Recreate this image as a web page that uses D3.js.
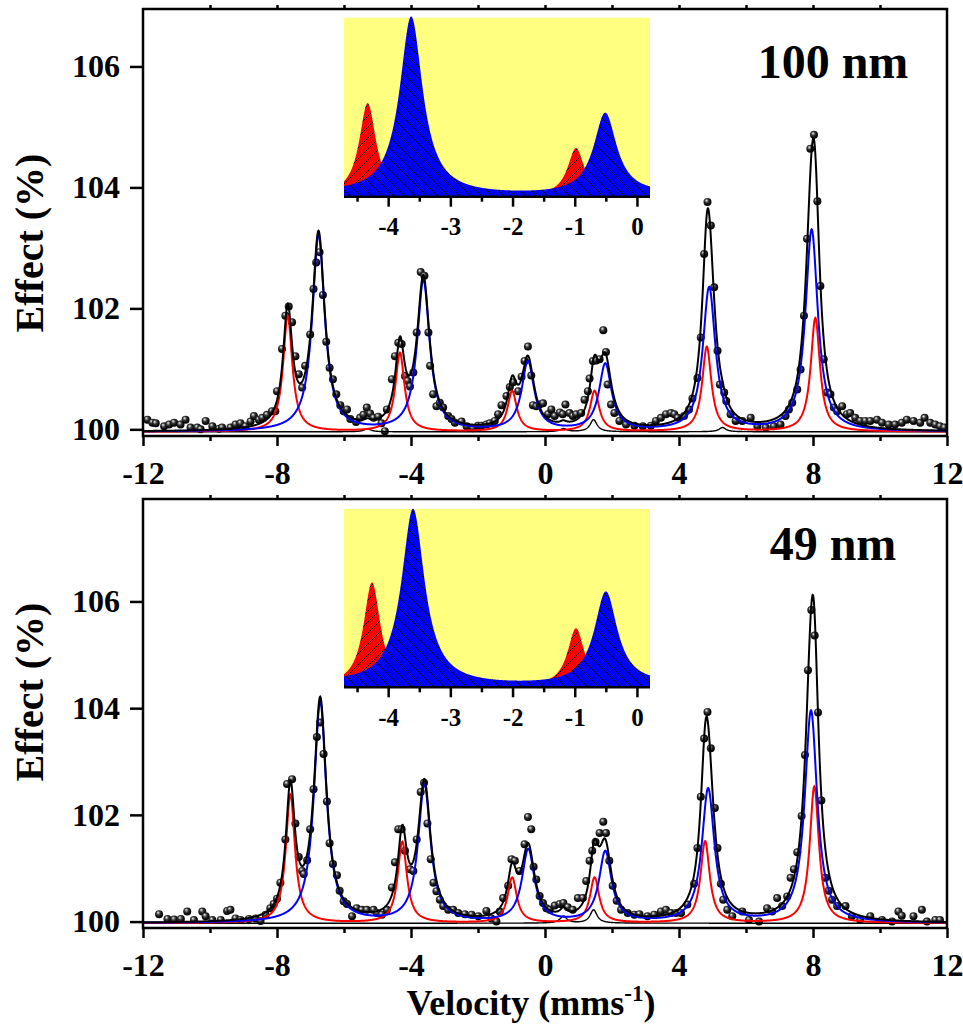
<!DOCTYPE html>
<html>
<head>
<meta charset="utf-8">
<script src="https://cdn.jsdelivr.net/npm/d3@7"></script>
<style>
  body { margin: 0; background: #fff; }
  text { font-family: "Liberation Serif", "Times New Roman", serif; font-weight: bold; fill: #000; }
</style>
</head>
<body>
<svg id="fig" width="963" height="1024"></svg>
<script>
// ---- axis ticks ----
const velocityTicks = [-12, -8, -4, 0, 4, 8, 12];
const velocityMinor = [-10, -6, -2, 2, 6, 10];
const velocityTop = [-10, -8, -6, -4, -2, 0, 2, 4, 6, 8, 10];
const effectTicks = [100, 102, 104, 106];
const insetTicks = [-4, -3, -2, -1, 0];
const insetMinor = [-4.5, -3.5, -2.5, -1.5, -0.5];

// ---- 100 nm film: measured spectrum [velocity mm/s, effect %] ----
const data100 = [
  [-11.87,100.16],[-11.72,100.11],[-11.62,100.10],[-11.37,100.05],[-11.22,100.08],[-11.07,100.11],
  [-10.88,100.08],[-10.73,100.16],[-10.58,100.03],[-10.38,100.03],[-10.28,100.00],[-10.13,100.14],
  [-9.93,100.05],[-9.73,100.01],[-9.64,100.03],[-9.39,100.03],[-9.24,100.08],[-9.09,100.10],
  [-8.94,100.05],[-8.79,100.13],[-8.69,100.22],[-8.54,100.16],[-8.44,100.19],[-8.30,100.24],
  [-8.15,100.30],[-8.05,100.30],[-8.00,100.63],[-7.85,101.33],[-7.75,101.88],[-7.65,102.03],
  [-7.55,101.77],[-7.45,101.21],[-7.35,100.91],[-7.25,100.69],[-7.16,101.05],[-7.01,101.57],
  [-6.91,102.32],[-6.83,102.76],[-6.73,102.93],[-6.63,102.22],[-6.53,101.45],[-6.43,101.02],
  [-6.33,100.83],[-6.23,100.58],[-6.11,100.40],[-6.01,100.30],[-5.91,100.33],[-5.81,100.17],
  [-5.64,100.12],[-5.52,100.19],[-5.42,100.24],[-5.32,100.36],[-5.22,100.26],[-5.12,100.19],
  [-4.98,100.21],[-4.88,100.10],[-4.78,99.97],[-4.72,100.33],[-4.57,100.83],[-4.48,101.21],
  [-4.38,101.43],[-4.28,101.41],[-4.18,100.88],[-4.10,100.80],[-4.03,100.71],[-3.93,100.94],
  [-3.83,101.60],[-3.71,102.60],[-3.60,102.54],[-3.48,101.60],[-3.43,101.05],[-3.34,100.58],
  [-3.24,100.38],[-3.14,100.44],[-3.04,100.36],[-2.89,100.22],[-2.79,100.17],[-2.69,100.11],
  [-2.49,100.13],[-2.34,100.05],[-2.15,100.02],[-2.00,100.06],[-1.90,100.06],[-1.75,100.08],
  [-1.65,100.10],[-1.50,100.14],[-1.40,100.25],[-1.30,100.40],[-1.15,100.55],[-1.05,100.70],
  [-0.95,100.78],[-0.80,100.63],[-0.70,100.87],[-0.61,101.13],[-0.51,101.37],[-0.41,100.89],
  [-0.36,100.40],[-0.26,100.38],[-0.16,100.41],[-0.06,100.43],[0.09,100.25],[0.19,100.33],
  [0.29,100.22],[0.44,100.28],[0.53,100.25],[0.61,100.41],[0.73,100.27],[0.83,100.22],
  [0.93,100.25],[1.08,100.27],[1.18,100.49],[1.28,100.63],[1.33,100.84],[1.43,101.13],
  [1.53,101.14],[1.63,101.16],[1.74,101.64],[1.82,101.28],[1.87,100.74],[1.97,100.41],
  [2.07,100.27],[2.22,100.14],[2.42,100.08],[2.67,100.06],[2.92,100.05],[3.16,100.06],
  [3.31,100.14],[3.46,100.19],[3.61,100.25],[3.76,100.27],[3.86,100.25],[3.96,100.19],
  [4.15,100.22],[4.30,100.33],[4.40,100.51],[4.55,100.85],[4.65,101.52],[4.75,102.90],
  [4.85,103.76],[4.95,103.37],[5.05,102.35],[5.15,101.30],[5.22,100.74],[5.35,100.61],
  [5.41,100.47],[5.54,100.25],[5.69,100.14],[5.89,100.14],[6.14,100.19],[6.34,100.05],
  [6.59,100.03],[6.83,100.05],[7.03,100.08],[7.18,100.22],[7.28,100.33],[7.38,100.44],
  [7.53,100.66],[7.63,100.99],[7.73,101.88],[7.82,103.15],[7.92,104.64],[8.03,104.87],
  [8.13,103.77],[8.22,102.37],[8.32,101.16],[8.42,100.61],[8.52,100.58],[8.62,100.36],
  [8.72,100.30],[8.87,100.38],[9.01,100.25],[9.11,100.27],[9.26,100.19],[9.41,100.14],
  [9.56,100.14],[9.71,100.14],[9.91,100.16],[10.06,100.11],[10.26,100.08],[10.45,100.08],
  [10.65,100.11],[10.80,100.16],[11.00,100.14],[11.20,100.11],[11.33,100.19],[11.50,100.11],
  [11.65,100.08],[11.79,100.05],[11.92,100.03]
];

// ---- 49 nm film: measured spectrum ----
const data49 = [
  [-11.52,100.14],[-11.27,100.05],[-11.07,100.04],[-10.87,100.05],[-10.68,100.19],[-10.48,100.03],
  [-10.23,100.19],[-10.13,100.10],[-9.93,100.03],[-9.68,100.03],[-9.49,100.20],[-9.39,100.22],
  [-9.24,100.06],[-9.09,100.03],[-8.84,100.05],[-8.64,100.06],[-8.49,100.01],[-8.34,100.13],
  [-8.20,100.25],[-8.10,100.33],[-8.00,100.43],[-7.90,100.73],[-7.75,101.54],[-7.70,102.58],
  [-7.55,102.67],[-7.45,101.84],[-7.35,101.21],[-7.25,100.95],[-7.20,100.89],[-7.10,101.15],
  [-7.01,101.73],[-6.91,102.48],[-6.81,103.46],[-6.71,103.73],[-6.61,103.14],[-6.51,102.25],
  [-6.43,101.47],[-6.33,101.08],[-6.21,100.87],[-6.13,100.58],[-6.01,100.38],[-5.91,100.33],
  [-5.76,100.10],[-5.62,100.25],[-5.47,100.22],[-5.32,100.22],[-5.12,100.22],[-5.02,100.16],
  [-4.87,100.13],[-4.72,100.22],[-4.57,100.64],[-4.48,101.11],[-4.38,101.73],[-4.28,101.73],
  [-4.18,101.33],[-4.03,100.98],[-3.93,100.95],[-3.83,101.54],[-3.71,102.43],[-3.61,102.60],
  [-3.51,101.84],[-3.41,101.17],[-3.33,100.73],[-3.24,100.57],[-3.14,100.41],[-3.04,100.29],
  [-2.89,100.22],[-2.74,100.22],[-2.59,100.16],[-2.39,100.14],[-2.19,100.13],[-1.99,100.10],
  [-1.75,100.20],[-1.60,100.06],[-1.45,100.00],[-1.35,100.19],[-1.25,100.44],[-1.10,100.67],
  [-1.00,101.17],[-0.90,101.14],[-0.76,100.95],[-0.61,101.45],[-0.51,101.96],[-0.41,101.73],
  [-0.34,101.03],[-0.26,100.79],[-0.16,100.48],[-0.06,100.35],[0.04,100.25],[0.14,100.22],
  [0.29,100.30],[0.44,100.33],[0.55,100.35],[0.68,100.27],[0.83,100.22],[0.98,100.44],
  [1.13,100.44],[1.23,100.76],[1.33,101.14],[1.41,101.33],[1.51,101.49],[1.63,101.66],
  [1.74,101.87],[1.82,101.66],[1.92,101.14],[2.02,100.67],[2.14,100.39],[2.27,100.22],
  [2.47,100.16],[2.67,100.13],[2.82,100.14],[3.06,100.10],[3.26,100.13],[3.46,100.19],
  [3.61,100.22],[3.76,100.16],[3.91,100.16],[4.06,100.16],[4.25,100.32],[4.45,100.71],
  [4.55,101.38],[4.65,102.34],[4.75,103.43],[4.85,103.93],[4.95,103.25],[5.07,102.13],
  [5.15,101.38],[5.25,100.71],[5.32,100.41],[5.44,100.22],[5.59,100.10],[5.89,100.19],
  [6.09,100.03],[6.39,100.00],[6.63,100.25],[6.78,100.19],[6.93,100.44],[7.08,100.29],
  [7.23,100.47],[7.33,100.82],[7.43,100.98],[7.53,101.30],[7.66,101.98],[7.76,103.12],
  [7.85,104.71],[7.95,105.84],[8.05,105.36],[8.15,103.92],[8.25,102.27],[8.37,100.82],
  [8.47,100.58],[8.57,100.41],[8.72,100.29],[8.97,100.29],[9.16,100.10],[9.41,100.03],
  [9.71,100.10],[10.06,100.03],[10.36,100.00],[10.55,100.19],[10.65,100.11],[11.00,100.10],
  [11.25,100.22],[11.40,100.00],[11.65,100.03],[11.79,100.03]
];

// ---- fitted sub-spectra: line positions (mm/s) and line intensities (%) ----
const redPos100  = [-7.68, -4.33, -0.98, 1.48, 4.83, 8.07];
const redAmp100  = [1.92, 1.30, 0.67, 0.67, 1.40, 1.88];
const bluePos100 = [-6.76, -3.63, -0.51, 1.80, 4.90, 7.96];
const blueAmp100 = [3.24, 2.49, 1.14, 1.10, 2.37, 3.33];
const minorPos100 = [-5.30, 0.55, 1.45, 5.30];
const minorAmp100 = [0.05, 0.05, 0.20, 0.07];
const baseline100 = 99.96;

const redPos49  = [-7.60, -4.26, -0.98, 1.48, 4.78, 8.04];
const redAmp49  = [2.41, 1.52, 0.85, 0.85, 1.53, 2.56];
const bluePos49 = [-6.71, -3.60, -0.50, 1.80, 4.87, 7.94];
const blueAmp49 = [4.14, 2.57, 1.36, 1.32, 2.50, 3.97];
const minorPos49 = [0.55, 1.45];
const minorAmp49 = [0.13, 0.25];
const baseline49 = 99.97;

// line widths (FWHM, mm/s)
const redFwhm = 0.33, blueFwhm = 0.45, minorFwhm = 0.25;

// sum of Lorentzian lines
function lorentz(v, pos, amp, fwhm) {
  const hw = fwhm / 2;
  let s = 0;
  for (let i = 0; i < pos.length; i++) s += amp[i] / (1 + ((v - pos[i]) / hw) ** 2);
  return s;
}

const svg = d3.select("#fig");
const defs = svg.append("defs");

// shaded sphere marker
const g0 = defs.append("radialGradient").attr("id", "sphere")
  .attr("cx", "45%").attr("cy", "42%").attr("r", "58%").attr("fx", "36%").attr("fy", "30%");
g0.append("stop").attr("offset", "0%").attr("stop-color", "#ffffff");
g0.append("stop").attr("offset", "14%").attr("stop-color", "#b4b4b4");
g0.append("stop").attr("offset", "42%").attr("stop-color", "#3a3a3a");
g0.append("stop").attr("offset", "75%").attr("stop-color", "#0e0e0e");
g0.append("stop").attr("offset", "100%").attr("stop-color", "#000");

// hatched fills for the inset components
function hatch(id, color, forward) {
  const s = 11;
  const p = defs.append("pattern").attr("id", id).attr("patternUnits", "userSpaceOnUse")
    .attr("width", s).attr("height", s);
  p.append("rect").attr("width", s).attr("height", s).attr("fill", color);
  const d = forward
    ? `M0,${s} L${s},0 M-2,2 L2,-2 M${s - 2},${s + 2} L${s + 2},${s - 2}`
    : `M0,0 L${s},${s} M-2,${s - 2} L2,${s + 2} M${s - 2},-2 L${s + 2},2`;
  p.append("path").attr("d", d).attr("stroke", "#000").attr("stroke-width", 1);
}
hatch("hatchRed", "#ff0000", true);
hatch("hatchBlue", "#0000ff", false);

const grid = d3.range(-12, 12.0001, 0.01);

function drawPanel(cfg) {
  const x = d3.scaleLinear().domain([-12, 12]).range([143, 947]);
  const y = d3.scaleLinear().domain(cfg.yDomain).range([cfg.bottom, cfg.top]);
  const g = svg.append("g");

  const clipId = "clip" + cfg.id;
  defs.append("clipPath").attr("id", clipId).append("rect")
    .attr("x", 143).attr("y", cfg.top).attr("width", 804).attr("height", cfg.bottom - cfg.top);

  const plot = g.append("g").attr("clip-path", `url(#${clipId})`);

  // measured points
  plot.append("g").selectAll("circle").data(cfg.data).join("circle")
    .attr("cx", d => x(d[0])).attr("cy", d => y(d[1])).attr("r", 4)
    .attr("fill", "url(#sphere)");

  const line = d3.line().x(d => x(d[0])).y(d => y(d[1]));
  const comp = (pos, amp, w) => grid.map(v => [v, cfg.base + lorentz(v, pos, amp, w)]);
  const total = grid.map(v => [v, cfg.base + lorentz(v, cfg.redPos, cfg.redAmp, redFwhm)
    + lorentz(v, cfg.bluePos, cfg.blueAmp, blueFwhm) + lorentz(v, cfg.minorPos, cfg.minorAmp, minorFwhm)]);

  plot.append("path").attr("d", line(comp(cfg.minorPos, cfg.minorAmp, minorFwhm)))
    .attr("fill", "none").attr("stroke", "#000").attr("stroke-width", 1.4);
  plot.append("path").attr("d", line(comp(cfg.redPos, cfg.redAmp, redFwhm)))
    .attr("fill", "none").attr("stroke", "#ff0000").attr("stroke-width", 2);
  plot.append("path").attr("d", line(comp(cfg.bluePos, cfg.blueAmp, blueFwhm)))
    .attr("fill", "none").attr("stroke", "#0000ff").attr("stroke-width", 2);
  plot.append("path").attr("d", line(total))
    .attr("fill", "none").attr("stroke", "#000").attr("stroke-width", 2);

  // axes
  const fmt = d => String(d);
  const ax = g.append("g").attr("transform", `translate(0,${cfg.bottom})`)
    .call(d3.axisBottom(x).tickValues(velocityTicks).tickSize(10).tickPadding(15).tickFormat(fmt));
  ax.selectAll("text").style("font-size", "32px");
  g.append("g").attr("transform", `translate(0,${cfg.bottom})`)
    .call(d3.axisBottom(x).tickValues(velocityMinor).tickSize(5).tickFormat(""));
  g.append("g").attr("transform", `translate(0,${cfg.top})`)
    .call(d3.axisTop(x).tickValues(velocityTop).tickSize(4).tickFormat(""));
  const ay = g.append("g").attr("transform", "translate(143,0)")
    .call(d3.axisLeft(y).tickValues(effectTicks).tickSize(13).tickPadding(10).tickFormat(fmt));
  ay.selectAll("text").style("font-size", "32px");
  g.selectAll(".domain").remove();
  g.selectAll(".tick line").attr("stroke", "#000").attr("stroke-width", 2.5);
  g.selectAll(".tick text").attr("font-family", null);

  g.append("rect").attr("x", 143).attr("y", cfg.top).attr("width", 804)
    .attr("height", cfg.bottom - cfg.top).attr("fill", "none")
    .attr("stroke", "#000").attr("stroke-width", 2.5);

  // inset: expanded view of the two sub-spectra
  const ix = d3.scaleLinear().domain([-4.71, 0.21]).range([344, 650]);
  const iy = d3.scaleLinear().domain([0, cfg.insetMax]).range([cfg.insetAxis, cfg.insetTop]);
  const ig = g.append("g");
  ig.append("rect").attr("x", 344).attr("y", cfg.insetTop).attr("width", 306)
    .attr("height", cfg.insetAxis - cfg.insetTop).attr("fill", "#ffff80");
  const igrid = d3.range(-4.71, 0.2101, 0.005);
  const area = d3.area().x(d => ix(d[0])).y0(iy(0)).y1(d => iy(d[1]));
  ig.append("path").attr("d", area(igrid.map(v => [v, lorentz(v, cfg.redPos, cfg.redAmp, redFwhm)])))
    .attr("fill", "url(#hatchRed)");
  ig.append("path").attr("d", area(igrid.map(v => [v, lorentz(v, cfg.bluePos, cfg.blueAmp, blueFwhm)])))
    .attr("fill", "url(#hatchBlue)");
  const iax = ig.append("g").attr("transform", `translate(0,${cfg.insetAxis})`)
    .call(d3.axisBottom(ix).tickValues(insetTicks).tickSize(10).tickPadding(11).tickFormat(fmt));
  iax.selectAll("text").style("font-size", "25px").attr("font-family", null);
  ig.append("g").attr("transform", `translate(0,${cfg.insetAxis})`)
    .call(d3.axisBottom(ix).tickValues(insetMinor).tickSize(5).tickFormat(""));
  ig.selectAll(".domain").remove();
  ig.selectAll(".tick line").attr("stroke", "#000").attr("stroke-width", 2.5);
  ig.append("line").attr("x1", 344).attr("x2", 650).attr("y1", cfg.insetAxis).attr("y2", cfg.insetAxis)
    .attr("stroke", "#000").attr("stroke-width", 2.5);

  // labels
  g.append("text").attr("x", 833).attr("y", cfg.tagY).attr("text-anchor", "middle")
    .style("font-size", "48px").text(cfg.tag);
  g.append("text").attr("transform", `translate(43,${cfg.labelY}) rotate(-90)`)
    .attr("text-anchor", "middle").style("font-size", "40px").text("Effect (%)");
}

drawPanel({
  id: "a", top: 9, bottom: 436, yDomain: [99.89, 106.95], base: baseline100,
  data: data100, redPos: redPos100, redAmp: redAmp100, bluePos: bluePos100, blueAmp: blueAmp100,
  minorPos: minorPos100, minorAmp: minorAmp100,
  insetTop: 17.7, insetAxis: 196.7, insetMax: 2.5, tag: "100 nm", tagY: 78, labelY: 243
});
drawPanel({
  id: "b", top: 499, bottom: 928, yDomain: [99.88, 107.92], base: baseline49,
  data: data49, redPos: redPos49, redAmp: redAmp49, bluePos: bluePos49, blueAmp: blueAmp49,
  minorPos: minorPos49, minorAmp: minorAmp49,
  insetTop: 509, insetAxis: 687.3, insetMax: 2.6, tag: "49 nm", tagY: 560, labelY: 692
});

// x-axis title with superscript
const xt = svg.append("text").attr("x", 531).attr("y", 1015).attr("text-anchor", "middle")
  .style("font-size", "36px");
xt.append("tspan").text("Velocity (mms");
xt.append("tspan").attr("dy", -14).style("font-size", "23px").text("-1");
xt.append("tspan").attr("dy", 14).text(")");
</script>
</body>
</html>
